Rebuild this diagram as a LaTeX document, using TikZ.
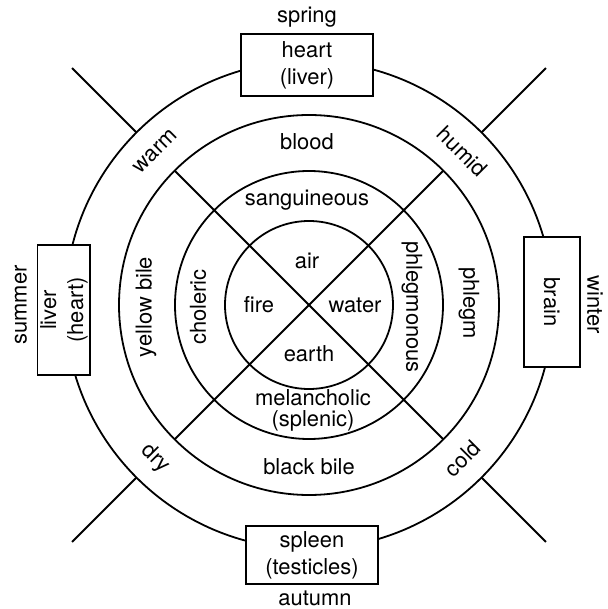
\documentclass[tikz,border=0pt]{standalone}
\usepackage{fontspec}
\setmainfont{TeX Gyre Heros}
\begin{document}
\begin{tikzpicture}[x=1bp,y=1bp,line width=1.8bp,
  lbl/.style={font=\fontsize{22}{26}\selectfont, inner sep=0pt, align=center},
  box/.style={draw, fill=white, inner sep=0pt, align=center, font=\fontsize{22}{27}\selectfont}]
\useasboundingbox (-309,-304) rectangle (299,305);
\coordinate (O) at (0,0);
% circles
\draw (O) circle (84);
\draw (O) circle (134);
\draw (O) circle (190);
\draw (O) circle (244);
% diagonals and outer spokes
\foreach \a in {45,135,225,315}{
  \coordinate (d\a) at (\a:190);
  \coordinate (si\a) at (\a:244);
  \coordinate (so\a) at (\a:335);
}
\draw (d45) -- (d225);
\draw (d135) -- (d315);
\foreach \a in {45,135,225,315}{\draw (si\a) -- (so\a);}
% boxes
\node[box, minimum width=133, minimum height=62] (top) at (-2,240) {heart\\(liver)};
\node[box, minimum width=132, minimum height=59] (bot) at (3,-250) {spleen\\(testicles)};
\node[box, minimum width=131, minimum height=53, rotate=90] (lft) at (-245,-5) {liver\\(heart)};
\node[box, minimum width=131, minimum height=56, rotate=-90] (rgt) at (243,3) {brain};
% seasons
\node[lbl] (spring) at (-2,288) {spring};
\node[lbl] (autumn) at (6,-293) {autumn};
\node[lbl, rotate=90] (summer) at (-288,0) {summer};
\node[lbl, rotate=-90] (winter) at (286,0) {winter};
% elements
\node[lbl] (air) at (-2,44) {air};
\node[lbl] (fire) at (-50,0) {fire};
\node[lbl] (water) at (46,0) {water};
\node[lbl] (earth) at (0,-49) {earth};
% temperaments
\node[lbl] (sang) at (-2,105) {sanguineous};
\node[lbl, rotate=90] (chol) at (-111,-2) {choleric};
\node[lbl, rotate=-90] (phlo) at (103,-2) {phlegmonous};
\node[lbl, font=\fontsize{22}{21}\selectfont] (mel) at (4,-105) {melancholic\\(splenic)};
% humours
\node[lbl] (blood) at (-2,163) {blood};
\node[lbl, rotate=90] (ybile) at (-163,-2) {yellow bile};
\node[lbl, rotate=-90] (phlegm) at (160,2) {phlegm};
\node[lbl] (bbile) at (0,-162) {black bile};
% qualities
\node[lbl, rotate=45] (warm) at (135:217) {warm};
\node[lbl, rotate=-45] (humid) at (45:217) {humid};
\node[lbl, rotate=45] (cold) at (-45:217) {cold};
\node[lbl, rotate=-45] (dry) at (-135:217) {dry};
\end{tikzpicture}
\end{document}
